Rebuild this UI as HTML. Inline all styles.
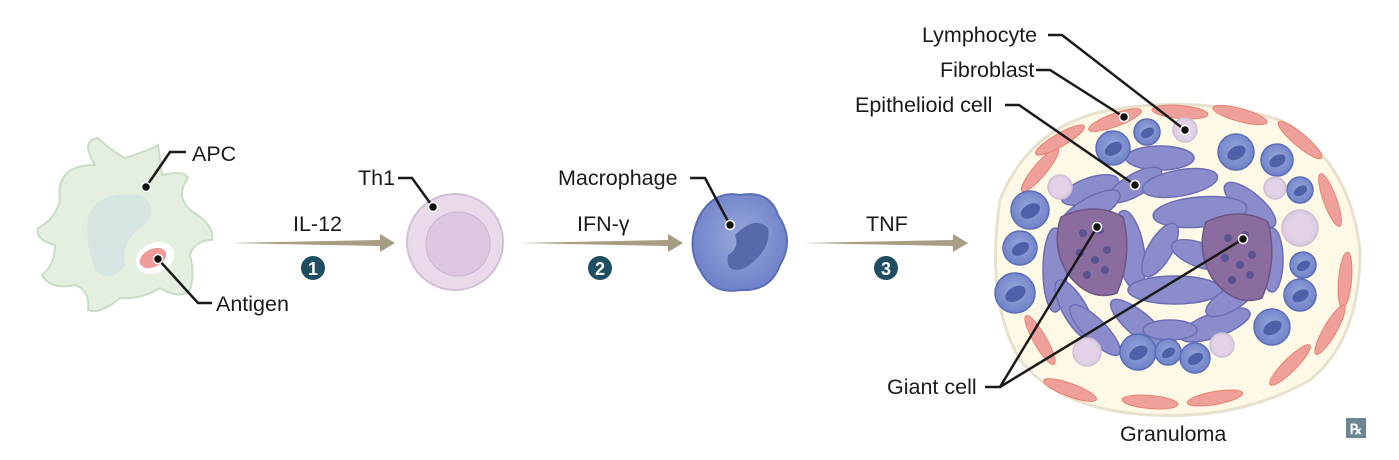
<!DOCTYPE html>
<html><head><meta charset="utf-8"><style>
html,body{margin:0;padding:0;background:#fff;}
svg{display:block;font-family:"Liberation Sans",sans-serif;}
.lbl{font-size:21.5px;fill:#1a1a1a;}
</style></head><body>
<svg id="s" width="1399" height="460" viewBox="0 0 1399 460">
<defs>
<radialGradient id="mac" cx="50%" cy="45%" r="55%"><stop offset="0" stop-color="#98a8dc"/><stop offset="1" stop-color="#6f81c8"/></radialGradient>
<radialGradient id="lym" cx="50%" cy="50%" r="55%"><stop offset="0" stop-color="#efe6f3"/><stop offset="1" stop-color="#d9c7e0"/></radialGradient>
</defs>
<g>
<path d="M60,200 Q55,165 95,165 Q80,140 98,138 Q110,150 125,158 Q150,150 158,145 Q160,158 162,175 Q185,170 188,178 Q175,195 190,210 Q215,225 212,240 Q195,240 190,255 Q195,275 190,290 Q180,300 160,288 Q140,300 120,298 Q100,315 88,310 Q90,290 75,285 Q50,290 42,275 Q55,265 55,245 Q35,240 38,228 Q55,220 60,200Z" fill="#e4efe0" stroke="#c9ddc6" stroke-width="2"/>
<path d="M88,215 Q100,190 140,195 Q160,205 145,225 Q120,240 125,265 Q110,285 95,270 Q85,245 88,215Z" fill="#d5e6e2"/>
<ellipse cx="155" cy="258" rx="20" ry="15" fill="#fff" transform="rotate(-25 155 258)"/>
<ellipse cx="153" cy="258" rx="14" ry="9" fill="#ef9a98" transform="rotate(-25 153 258)"/>
</g>
<polyline points="146,187 170,152 186,152" fill="none" stroke="#1a1a1a" stroke-width="2.5"/><circle cx="146" cy="187" r="4.5" fill="#111" stroke="#fff" stroke-width="1.5"/>
<text x="192" y="161" class="lbl">APC</text>
<polyline points="158,259 198,303 212,303" fill="none" stroke="#1a1a1a" stroke-width="2.5"/><circle cx="158" cy="259" r="4.5" fill="#111" stroke="#fff" stroke-width="1.5"/>
<text x="216" y="311" class="lbl">Antigen</text>
<g><path d="M230,243 L380,240 L380,246Z" fill="#a89c82"/><path d="M380,234 L395,243 L380,252Z" fill="#a89c82"/></g>
<g><path d="M520,243 L668,240 L668,246Z" fill="#a89c82"/><path d="M668,234 L683,243 L668,252Z" fill="#a89c82"/></g>
<g><path d="M803,243 L953,240 L953,246Z" fill="#a89c82"/><path d="M953,234 L968,243 L953,252Z" fill="#a89c82"/></g>
<text x="293" y="231" class="lbl">IL-12</text>
<text x="577" y="231" class="lbl">IFN-γ</text>
<text x="866" y="231" class="lbl">TNF</text>
<g><circle cx="313" cy="268" r="12" fill="#1f4e63"/><text x="313" y="275" text-anchor="middle" fill="#fff" font-size="18" font-weight="bold">1</text></g>
<g><circle cx="600" cy="268" r="12" fill="#1f4e63"/><text x="600" y="275" text-anchor="middle" fill="#fff" font-size="18" font-weight="bold">2</text></g>
<g><circle cx="886" cy="268" r="12" fill="#1f4e63"/><text x="886" y="275" text-anchor="middle" fill="#fff" font-size="18" font-weight="bold">3</text></g>
<g><circle cx="455" cy="242" r="48" fill="#ead9ea" stroke="#d2bfd6" stroke-width="2"/><circle cx="458" cy="244" r="32" fill="#ddc6e0" stroke="#ccb3d2"/></g>
<polyline points="433,207 412,178 398,178" fill="none" stroke="#1a1a1a" stroke-width="2.5"/><circle cx="433" cy="207" r="4.5" fill="#111" stroke="#fff" stroke-width="1.5"/>
<text x="358" y="185" class="lbl">Th1</text>
<g><path d="M700,215 Q715,190 740,195 Q770,190 778,215 Q795,240 780,265 Q770,292 740,290 Q712,295 700,270 Q685,245 700,215Z" fill="url(#mac)" stroke="#5b6db8" stroke-width="2"/>
<path d="M735,235 Q755,215 768,228 Q772,250 745,268 Q725,275 728,255 Q740,248 735,235Z" fill="#5869ab"/></g>
<polyline points="730,225 705,178 690,178" fill="none" stroke="#1a1a1a" stroke-width="2.5"/><circle cx="730" cy="225" r="4.5" fill="#111" stroke="#fff" stroke-width="1.5"/>
<text x="558" y="185" class="lbl">Macrophage</text>
<g id="gran">
<path d="M1000,200 Q1030,125 1110,110 Q1200,95 1280,120 Q1350,160 1360,250 Q1360,340 1310,380 Q1240,420 1150,415 Q1060,410 1020,360 Q985,300 1000,200Z" fill="#fdf9e6" stroke="#e7e1cd" stroke-width="3"/>
</g>
<text x="1120" y="441" class="lbl">Granuloma</text>
<g id="labels"></g>
<g><rect x="1346" y="418" width="20" height="20" fill="#6b8592"/><text x="1356" y="434" text-anchor="middle" fill="#fff" font-size="14" font-weight="bold">℞</text></g>
</svg>
<script>
const NS='http://www.w3.org/2000/svg';
const g=document.getElementById('gran');
function el(t,a,p){const e=document.createElementNS(NS,t);for(const k in a)e.setAttribute(k,a[k]);(p||g).appendChild(e);return e;}
const fibroblasts=[[1115,120,-20],[1180,112,5],[1240,115,15],[1300,140,40],[1330,200,70],[1345,280,95],[1330,330,120],[1290,365,135],[1215,398,170],[1150,402,185],[1070,390,200],[1040,340,240],[1040,170,-50],[1060,140,-30]];
const epith=[[1160,158,0,34,12],[1090,190,-20,30,12],[1135,185,-30,30,11],[1180,183,-10,38,13],[1250,205,40,32,12],[1200,212,-5,47,15],[1090,210,-30,34,12],[1055,270,90,42,12],[1075,310,60,34,12],[1095,330,45,34,11],[1130,250,80,40,14],[1160,250,-60,30,12],[1200,255,20,30,12],[1175,290,0,47,14],[1215,325,-20,37,12],[1140,325,40,37,12],[1170,330,0,27,10],[1272,260,90,32,11],[1230,300,-30,27,11]];
const macs=[[1113,148,17],[1147,132,13],[1236,152,18],[1277,160,16],[1300,190,13],[1030,210,19],[1020,248,17],[1015,293,20],[1303,265,13],[1300,295,16],[1272,327,18],[1138,352,18],[1168,352,13],[1195,358,15]];
const lyms=[[1185,130,12],[1060,187,12],[1275,188,11],[1300,228,18],[1087,352,14],[1222,345,12]];
const giants=[[1095,245],[1240,250]];
fibroblasts.forEach(f=>{const e=el('ellipse',{cx:f[0],cy:f[1],rx:28,ry:6.5,fill:'#f0a09a',stroke:'#e8826f',transform:`rotate(${f[2]} ${f[0]} ${f[1]})`});

});
epith.forEach(f=>{const e=el('ellipse',{cx:f[0],cy:f[1],rx:f[3],ry:f[4],fill:'#8b8ccc',stroke:'#6c6db5','stroke-width':1.5,transform:`rotate(${f[2]} ${f[0]} ${f[1]})`});

});
giants.forEach(c=>{const e=el('path',{d:`M${c[0]-34},${c[1]-28} Q${c[0]},${c[1]-44} ${c[0]+28},${c[1]-28} Q${c[0]+38},${c[1]+10} ${c[0]+22},${c[1]+48} Q${c[0]-5},${c[1]+58} ${c[0]-28},${c[1]+28} Q${c[0]-44},${c[1]} ${c[0]-34},${c[1]-28}Z`,fill:'#8a6c9e',stroke:'#6e5586','stroke-width':1.5});


[[-12,-12],[5,-15],[12,5],[-15,8],[0,15],[-8,30],[10,25]].forEach(d=>el('circle',{cx:c[0]+d[0],cy:c[1]+d[1],r:4,fill:'#5a5391'}));});
macs.forEach(m=>{const e=el('circle',{cx:m[0],cy:m[1],r:m[2],fill:'url(#mac)',stroke:'#5b6db8','stroke-width':1.5});


el('ellipse',{cx:m[0],cy:m[1]+1,rx:m[2]*0.55,ry:m[2]*0.35,fill:'#4f60a8',transform:`rotate(-30 ${m[0]} ${m[1]})`});});
lyms.forEach(m=>{const e=el('circle',{cx:m[0],cy:m[1],r:m[2],fill:'url(#lym)',stroke:'#d2bfd6','stroke-width':1.5});


el('circle',{cx:m[0],cy:m[1],r:m[2]*0.6,fill:'#e4d3e8'});});
const L=document.getElementById('labels');
const leaders=[['Lymphocyte',922,42,1048,'1185,130'],['Fibroblast',940,77,1036,'1124,117'],['Epithelioid cell',855,112,1005,'1135,185']];
leaders.forEach(l=>{const t=el('text',{x:l[1],y:l[2],class:'lbl'},L);t.textContent=l[0];


const [px,py]=l[4].split(',').map(Number);
el('polyline',{points:`${l[3]},${l[2]-7} ${l[3]+14},${l[2]-7} ${px},${py}`,fill:'none',stroke:'#1a1a1a','stroke-width':2.5},L);
el('circle',{cx:px,cy:py,r:4.5,fill:'#111',stroke:'#fff','stroke-width':1.5},L);});
const gt=el('text',{x:887,y:394,class:'lbl'},L);gt.textContent='Giant cell';


el('polyline',{points:'985,387 1000,387 1097,227',fill:'none',stroke:'#1a1a1a','stroke-width':2.5},L);
el('polyline',{points:'1000,387 1243,239',fill:'none',stroke:'#1a1a1a','stroke-width':2.5},L);
el('circle',{cx:1097,cy:227,r:4.5,fill:'#111',stroke:'#fff','stroke-width':1.5},L);
el('circle',{cx:1243,cy:239,r:4.5,fill:'#111',stroke:'#fff','stroke-width':1.5},L);
</script>
</body></html>
